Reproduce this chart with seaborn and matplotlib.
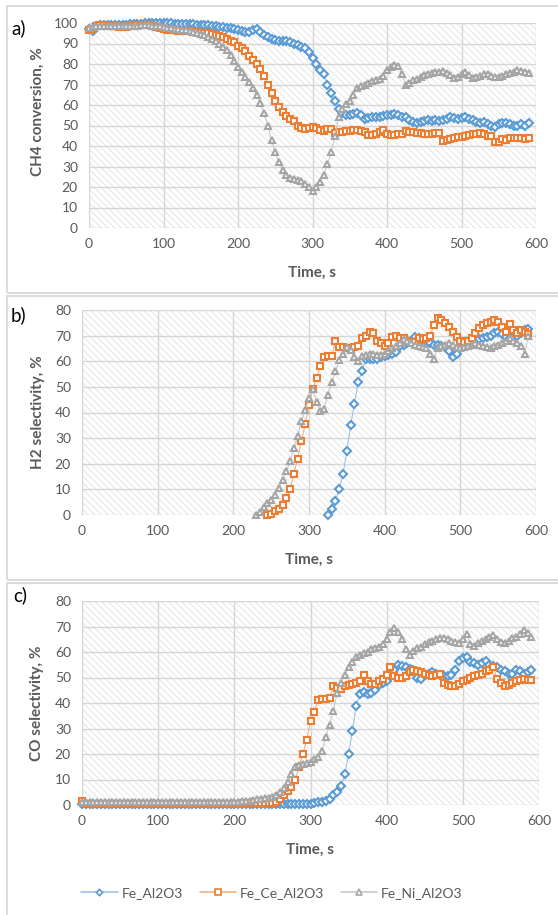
import numpy as np
import pandas as pd
import matplotlib
matplotlib.use('Agg')
import matplotlib.pyplot as plt
import seaborn as sns
from matplotlib.patches import Rectangle
from matplotlib.lines import Line2D

# ---------------- data ----------------
series_names = ['Fe_Al2O3', 'Fe_Ce_Al2O3', 'Fe_Ni_Al2O3']
time_full = list(range(0, 595, 5))          # 0 .. 590 s

ch4_fe_al2o3 = [
    97, 96, 98.5, 99, 99, 99, 99, 99, 99, 99,
    99, 99.5, 99.5, 99.5, 99.5, 100, 100, 100, 100, 100,
    100, 100, 100, 99.5, 99.5, 99.5, 99.5, 99.5, 99.5, 99,
    99, 99, 99, 98.5, 98.5, 98, 98, 97.5, 97.5, 97,
    96.5, 96, 95.5, 95.5, 96.5, 97, 95.5, 94, 93, 92,
    91.5, 91, 91, 91, 90.5, 90, 89.5, 88.5, 88, 86,
    83, 80, 77, 75, 70, 66, 62, 58, 56, 55,
    55, 55.5, 56, 55, 53, 53.5, 54, 54, 54, 54.5,
    55, 55, 55.5, 55, 54, 54, 52.5, 51.5, 51, 51.5,
    52, 52.5, 52, 52.5, 52, 52.5, 53, 54, 53.5, 53,
    53.5, 54, 53, 52.5, 51.5, 51, 51.5, 50.5, 50, 49.5,
    50.5, 51, 51, 50.5, 50, 50, 50.5, 50, 51]
ch4_fe_ce_al2o3 = [
    96.5, 97, 98.5, 99, 99, 98.5, 98.5, 98.5, 98, 98,
    98, 98.5, 98.5, 99, 99, 99, 99, 98.5, 98, 97.5,
    97, 96.5, 96.5, 96.5, 96, 96, 96, 96, 95.5, 95.5,
    95, 95, 95, 94.5, 94, 93.5, 93, 92, 91, 90.5,
    89, 88, 86.5, 84, 82, 80, 77.5, 74, 70, 66,
    62, 59, 56.5, 54.5, 53, 52, 50, 49, 48.5, 49,
    49.5, 49, 48, 47.5, 48.5, 48.5, 46.5, 47, 47, 47.5,
    47.5, 48, 48, 47.5, 47, 45.5, 45.5, 46, 47, 48,
    46, 45.5, 45.5, 46, 46, 47.5, 47, 47, 46.5, 46.5,
    46, 46, 46, 46.5, 46.5, 42.5, 43, 43.5, 44, 44.5,
    44.5, 45, 45.5, 46, 46, 46.5, 46, 45, 45, 42,
    42, 43.5, 43, 44, 44, 44, 44, 43.5, 44]
ch4_fe_ni_al2o3 = [
    97.5, 98, 98.5, 98.5, 98.5, 98.5, 98.5, 98.5, 98.5, 98.5,
    98.5, 98.5, 98.5, 98.5, 99, 99, 99, 98.5, 98.5, 98.5,
    98, 97.5, 97.5, 97, 97, 96.5, 96.5, 96, 95.5, 95,
    94.5, 94, 93, 92, 91, 90, 88.5, 87, 84.5, 81.5,
    78.5, 76, 73.5, 71, 68.5, 65, 61, 56, 50, 43,
    37, 32, 28.5, 26, 24.5, 24, 23.5, 23, 21.5, 20,
    18, 20, 22.5, 26, 31, 37, 45, 54, 58, 60.5,
    62, 65, 68.5, 69.5, 70, 70.5, 71.5, 72, 72.5, 74,
    77, 78.5, 79.5, 79, 75, 70, 70.5, 72, 72.5, 73.5,
    74.5, 75, 75.5, 76, 76, 76.5, 75.5, 74.5, 73, 73.5,
    75, 76, 74.5, 73, 73.5, 74, 75, 75, 74, 73.5,
    73.5, 74, 75, 75.5, 76, 77, 76.5, 76, 75.5]

time_h2_al = list(range(325, 595, 5))
time_h2_ce = list(range(245, 595, 5))
time_h2_ni = list(range(230, 595, 5))
h2_fe_al2o3 = [
    0, 2.5, 5.5, 10, 16, 25, 35, 43.5, 52, 56,
    61, 61, 61, 61, 61.5, 62, 62.5, 63, 63.5, 66,
    66.5, 67, 68, 69.5, 69, 68, 67.5, 67, 66.5, 66.5,
    66, 65.5, 64, 61.5, 63, 65.5, 66, 66.5, 67.5, 68,
    68.5, 69, 69.5, 70, 71, 71.5, 70.5, 69.5, 69, 69.5,
    70, 71, 72, 72.5]
h2_fe_ce_al2o3 = [
    0, 0.5, 1.5, 2.5, 4, 6.5, 10, 16, 22, 29,
    35.5, 43, 49, 53.5, 58, 61.5, 62, 62, 68, 65.5,
    65.5, 65, 65, 65.5, 66, 69, 70, 71.5, 71, 68,
    67, 66, 67, 69.5, 70, 69, 69, 68, 67.5, 67.5,
    69, 68.5, 69, 70, 74, 77, 76, 75, 73.5, 71.5,
    69.5, 68, 67.5, 68, 69, 71, 73, 74, 75, 75.5,
    76, 75.5, 73.5, 71.5, 74.5, 72, 71, 72, 71.5, 70.5]
h2_fe_ni_al2o3 = [
    0, 1, 3, 4.5, 6, 8, 10.5, 13.5, 17, 21,
    26, 31, 36.5, 41, 45.5, 49, 44, 40.5, 41.5, 47,
    52, 56, 60.5, 63, 65.5, 64.5, 61.5, 60, 62, 62.5,
    63, 63, 62.5, 62.5, 63, 64, 65, 66, 67, 68.5,
    68, 67, 66.5, 66, 65.5, 65, 63, 61, 65, 66,
    66.5, 67, 66.5, 65.5, 65, 65.5, 66, 66.5, 67, 66.5,
    66, 65.5, 65, 66, 66.5, 67, 68, 69, 68, 67,
    66, 63, 70]

co_fe_al2o3 = [
    0.2, 0.2, 0.2, 0.2, 0.2, 0.2, 0.2, 0.2, 0.2, 0.2,
    0.2, 0.2, 0.2, 0.2, 0.2, 0.2, 0.2, 0.2, 0.2, 0.2,
    0.2, 0.2, 0.2, 0.2, 0.2, 0.2, 0.2, 0.2, 0.2, 0.2,
    0.2, 0.2, 0.2, 0.2, 0.2, 0.2, 0.2, 0.2, 0.2, 0.2,
    0.2, 0.2, 0.2, 0.2, 0.2, 0.2, 0.2, 0.2, 0.2, 0.2,
    0.2, 0.2, 0.2, 0.2, 0.2, 0.2, 0.3, 0.3, 0.4, 0.5,
    0.5, 0.7, 1, 1.2, 1.5, 2.5, 4, 5, 7.5, 12,
    20, 29, 39, 43.5, 44.5, 43.5, 44, 45, 47, 48,
    48.5, 51, 53, 55, 54.5, 54, 53.5, 53, 50, 49.5,
    51, 51.5, 52, 51.5, 51, 50.5, 50.5, 51, 53, 56.5,
    57.5, 58, 56, 55.5, 55, 55.5, 56.5, 55, 54.5, 54,
    53, 52.5, 51.5, 51.5, 53, 52.5, 51.5, 52, 53]
co_fe_ce_al2o3 = [
    1.5, 0.5, 0.3, 0.3, 0.3, 0.3, 0.3, 0.3, 0.3, 0.3,
    0.3, 0.3, 0.3, 0.3, 0.3, 0.3, 0.3, 0.3, 0.3, 0.3,
    0.3, 0.3, 0.3, 0.3, 0.3, 0.3, 0.3, 0.3, 0.3, 0.3,
    0.3, 0.3, 0.3, 0.4, 0.4, 0.4, 0.4, 0.5, 0.5, 0.5,
    0.5, 0.5, 0.6, 0.6, 0.6, 0.7, 0.7, 0.7, 0.8, 0.8,
    0.8, 1.2, 2.5, 4, 5.5, 7, 10, 15, 20, 25.5,
    33, 36.5, 41, 41.5, 41.5, 42, 46.5, 46, 45.5, 46.5,
    47, 47.5, 48, 48.5, 51, 48.5, 47.5, 47.5, 48.5, 49.5,
    51, 54, 50.5, 50, 50, 50.5, 52, 53, 52.5, 52,
    51.5, 51, 50.5, 51, 51.5, 48, 47, 46.5, 46.5, 47.5,
    48.5, 49, 50, 50.5, 51, 51.5, 52.5, 53, 54, 49.5,
    48, 46.5, 47, 48, 48.5, 49, 49.5, 49, 49]
co_fe_ni_al2o3 = [
    1, 1, 1, 1, 1, 1, 1, 1, 1, 1,
    1, 1, 1, 1, 1, 1, 1, 1, 1, 1,
    1, 1, 1, 1, 1, 1, 1, 1, 1, 1,
    1, 1, 1, 1, 1.1, 1.1, 1.1, 1.1, 1.2, 1.2,
    1.2, 1.3, 1.4, 1.5, 1.7, 1.9, 2.2, 2.4, 2.6, 2.8,
    3, 4, 5, 6.5, 9, 12, 15, 15.5, 16, 16.5,
    17, 18, 19, 21, 26.5, 31.5, 37, 44, 48, 51,
    54, 56, 58, 59, 59.5, 60, 61, 61.5, 62, 63,
    65, 68, 69.5, 68, 65, 61, 59, 60.5, 61.5, 62,
    63, 64, 64.5, 65, 65.5, 65.5, 65, 64.5, 64, 63.5,
    65, 67, 63, 62.5, 63.5, 64.5, 65, 66, 66.5, 65,
    64, 63.5, 64.5, 65.5, 66, 67, 68.5, 67.5, 66]

x_ticks = [0, 100, 200, 300, 400, 500, 600]
y_ticks_a = [0, 10, 20, 30, 40, 50, 60, 70, 80, 90, 100]
y_ticks_bc = [0, 10, 20, 30, 40, 50, 60, 70, 80]

# ---------------- style ----------------
sns.set_theme(style='white')
plt.rcParams['font.family'] = ['Lato', 'DejaVu Sans']
plt.rcParams['hatch.linewidth'] = 0.5

marker_colors = ['#5B9BD5', '#ED7D31', '#A5A5A5']
line_colors = ['#9DC3E6', '#F4B183', '#C9C9C9']
markers = ['D', 's', '^']
marker_sizes = [3.7, 4.5, 4.9]
text_grey = '#595959'
W, H = 558, 915

fig = plt.figure(figsize=(W / 100, H / 100), dpi=100)


def fx(px):
    return px / W


def fy(py):
    return 1 - py / H


# panel frames
for top, bottom in [(6, 293), (296, 580), (583, 930)]:
    fig.add_artist(Rectangle((fx(7), fy(bottom)), fx(600) - fx(7), fy(top) - fy(bottom),
                             transform=fig.transFigure, fill=False,
                             edgecolor='#d9d9d9', lw=1.3))

ax_a = fig.add_axes([fx(89), fy(228), fx(536) - fx(89), fy(23) - fy(228)])
ax_b = fig.add_axes([fx(82), fy(515), fx(536) - fx(82), fy(310) - fy(515)])
ax_c = fig.add_axes([fx(82), fy(805), fx(539) - fx(82), fy(601) - fy(805)])


def style_axes(ax, ymax, yticks, ylabel, ylab_x, ylab_y, tag, tag_xy):
    ax.add_patch(Rectangle((0, 0), 1, 1, transform=ax.transAxes, facecolor='white',
                           edgecolor='#dcdcdc', hatch='\\\\\\\\\\', lw=0, zorder=0))
    ax.set_xlim(0, 600)
    ax.set_ylim(0, ymax)
    ax.set_xticks(x_ticks)
    ax.set_yticks(yticks)
    ax.grid(True, color='#d6d6d6', lw=1.0)
    ax.set_axisbelow(True)
    for s in ax.spines.values():
        s.set_visible(False)
    ax.tick_params(axis='both', length=0, labelsize=10, labelcolor=text_grey)
    ax.tick_params(axis='x', pad=7)
    ax.tick_params(axis='y', pad=8)
    ax.set_xlabel('Time, s', fontsize=11, fontweight='bold', color=text_grey)
    ax.set_ylabel(ylabel, fontsize=11, fontweight='bold', color=text_grey)
    ax.xaxis.set_label_coords(0.5, -45 / 205)
    ax.xaxis.label.set_va('center')
    ax.yaxis.set_label_coords(ylab_x, ylab_y)
    ax.yaxis.label.set_va('center')
    fig.text(fx(tag_xy[0]), fy(tag_xy[1]), tag, fontsize=13.5, color='black',
             ha='left', va='center')


def draw(ax, series):
    for i, (t, v) in enumerate(series):
        df = pd.DataFrame({'Time': t, 'Value': v})
        sns.lineplot(data=df, x='Time', y='Value', ax=ax, estimator=None, sort=False,
                     color=line_colors[i], lw=0.8, marker=markers[i],
                     markersize=marker_sizes[i], markerfacecolor='white',
                     markeredgecolor=marker_colors[i], markeredgewidth=1.5,
                     zorder=3 + i, clip_on=False, legend=False)


draw(ax_a, [(time_full, ch4_fe_al2o3), (time_full, ch4_fe_ce_al2o3), (time_full, ch4_fe_ni_al2o3)])
draw(ax_b, [(time_h2_al, h2_fe_al2o3), (time_h2_ce, h2_fe_ce_al2o3), (time_h2_ni, h2_fe_ni_al2o3)])
draw(ax_c, [(time_full, co_fe_al2o3), (time_full, co_fe_ce_al2o3), (time_full, co_fe_ni_al2o3)])

style_axes(ax_a, 100, y_ticks_a, 'CH4 conversion, %', -51 / 447, 0.57, 'a)', (11, 28))
style_axes(ax_b, 80, y_ticks_bc, 'H2 selectivity, %', -44 / 454, 0.5, 'b)', (11, 315))
style_axes(ax_c, 80, y_ticks_bc, 'CO selectivity, %', -45 / 457, 0.5, 'c)', (13, 595))

handles = [Line2D([], [], color=line_colors[i], lw=1.2, marker=markers[i],
                  markersize=marker_sizes[i] - 0.5, markerfacecolor='white',
                  markeredgecolor=marker_colors[i], markeredgewidth=1.2)
           for i in range(3)]
leg = fig.legend(handles, series_names, loc='center', bbox_to_anchor=(fx(272), fy(893)),
                 ncol=3, frameon=False, fontsize=10, handlelength=2.6,
                 columnspacing=1.2, handletextpad=0.3)
for txt in leg.get_texts():
    txt.set_color(text_grey)

fig.savefig('out.png', dpi=100)
